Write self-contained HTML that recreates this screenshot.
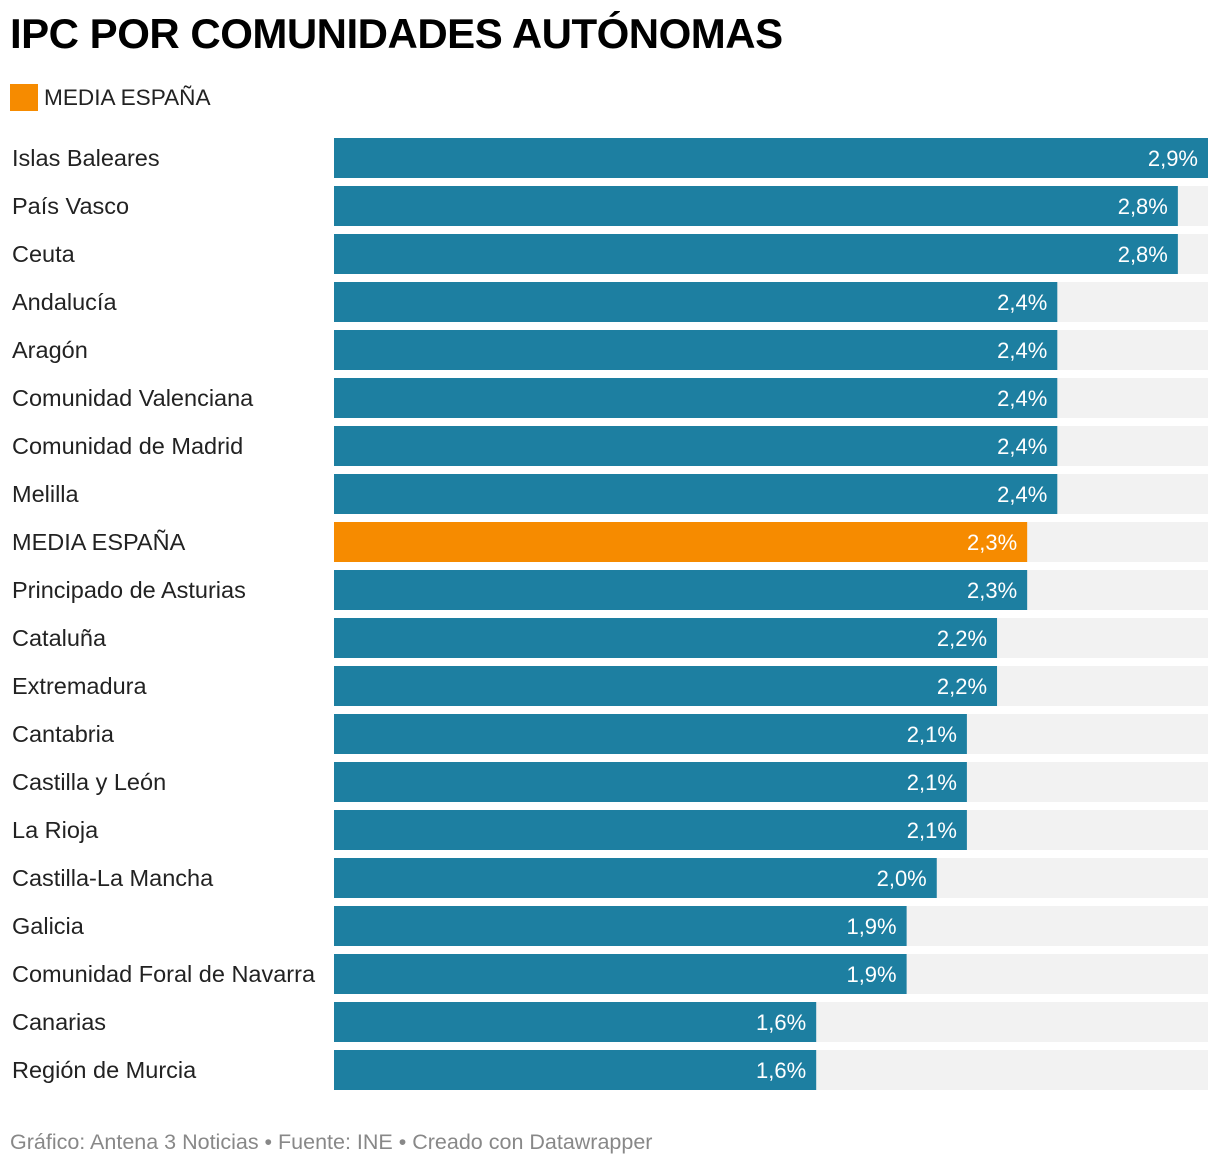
<!DOCTYPE html>
<html><head><meta charset="utf-8">
<style>
body{margin:0;width:1220px;height:1168px;background:#fff;font-family:"Liberation Sans",sans-serif;overflow:hidden;position:relative}
#title{position:absolute;left:10px;top:10px;font-size:42px;font-weight:bold;color:#000;letter-spacing:-0.5px}
#legend{position:absolute;left:10px;top:84px;font-size:22.6px;color:#222;display:flex;align-items:center}
#legend span.sw{width:28px;height:27px;background:#f68b00;display:inline-block;margin-right:6px}
#footer{position:absolute;left:10px;top:1130px;font-size:21.5px;color:#888}
</style></head><body>
<div id="title">IPC POR COMUNIDADES AUTÓNOMAS</div>
<div id="legend"><span class="sw"></span>MEDIA ESPAÑA</div>
<svg id="chart" width="1220" height="1168" style="position:absolute;left:0;top:0"></svg>
<div id="footer">Gráfico: Antena 3 Noticias • Fuente: INE • Creado con Datawrapper</div>
<script>
const categories=["Islas Baleares","País Vasco","Ceuta","Andalucía","Aragón","Comunidad Valenciana","Comunidad de Madrid","Melilla","MEDIA ESPAÑA","Principado de Asturias","Cataluña","Extremadura","Cantabria","Castilla y León","La Rioja","Castilla-La Mancha","Galicia","Comunidad Foral de Navarra","Canarias","Región de Murcia"];
const values=[2.9,2.8,2.8,2.4,2.4,2.4,2.4,2.4,2.3,2.3,2.2,2.2,2.1,2.1,2.1,2.0,1.9,1.9,1.6,1.6];
const highlight=["MEDIA ESPAÑA"];
const maxVal=2.9;
const x0=334,x1=1208,top0=138,pitch=48,bh=40;
const xs=v=>x0+(v/maxVal)*(x1-x0);
const ys=i=>top0+i*pitch;
const svg=document.getElementById('chart');
const NS="http://www.w3.org/2000/svg";
categories.forEach((c,i)=>{
  const y=ys(i);
  const bg=document.createElementNS(NS,'rect');
  bg.setAttribute('x',x0);bg.setAttribute('y',y);bg.setAttribute('width',x1-x0);bg.setAttribute('height',bh);bg.setAttribute('fill','#f2f2f2');
  
  
  svg.appendChild(bg);
  const r=document.createElementNS(NS,'rect');
  r.setAttribute('x',x0);r.setAttribute('y',y);r.setAttribute('width',xs(values[i])-x0);r.setAttribute('height',bh);
  r.setAttribute('fill',highlight.includes(c)?'#f68b00':'#1d7fa1');
  
  
  svg.appendChild(r);
  const t=document.createElementNS(NS,'text');
  t.setAttribute('x',12);t.setAttribute('y',y+28);t.setAttribute('font-size','23.5');t.setAttribute('fill','#222');
  t.textContent=c;
  
  
  svg.appendChild(t);
  const v=document.createElementNS(NS,'text');
  v.setAttribute('x',xs(values[i])-10);v.setAttribute('y',y+28);v.setAttribute('font-size','22');v.setAttribute('fill','#fff');v.setAttribute('text-anchor','end');
  v.textContent=values[i].toFixed(1).replace('.',',')+'%';
  
  
  svg.appendChild(v);
});
</script>
</body></html>
